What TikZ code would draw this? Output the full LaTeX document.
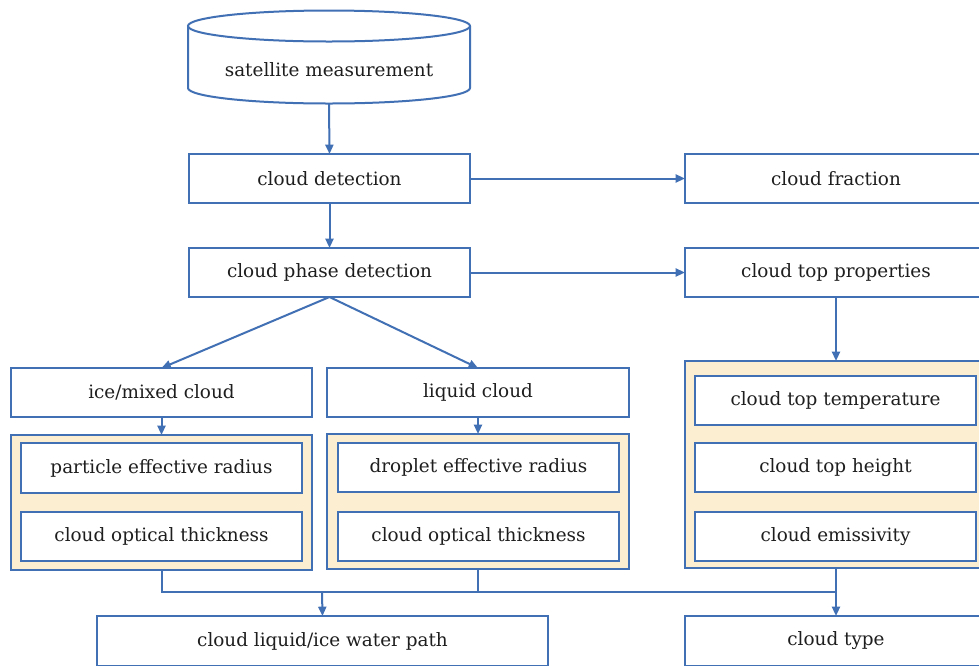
\documentclass[tikz,border=0pt]{standalone}
\usepackage{fontspec}
\setmainfont{DejaVu Serif}
\usetikzlibrary{arrows.meta}
\definecolor{lblue}{RGB}{66,112,180}
\definecolor{beige}{RGB}{252,238,208}
\definecolor{tx}{RGB}{30,30,30}
\newcommand{\bx}[7][box]{\node[#1,minimum width={(#5-#3)*0.75pt},minimum height={(#6-#4)*0.75pt}] (#2) at ({(#3+#5)/2},{(#4+#6)/2}) {#7};}
\tikzset{
  txt/.style={text=tx, font=\fontsize{13.8}{16}\selectfont},
  box/.style={draw=lblue, line width=1.5pt, fill=white, rectangle, inner sep=0pt, outer sep=0pt, txt},
  grp/.style={box, fill=beige},
  arr/.style={draw=lblue, line width=1.5pt, -{Triangle[length=7pt,width=6pt]}},
  conn/.style={draw=lblue, line width=1.5pt},
}
\begin{document}
\begin{tikzpicture}[x=0.75pt,y=-0.75pt]
\useasboundingbox (0,0) rectangle (979,665);
\fill[white] (0,0) rectangle (979,665);
\clip (0,0) rectangle (979,665);
% cylinder
\draw[conn, fill=white] (188,26) -- (188,88) arc[start angle=180, end angle=0, x radius=141, y radius=15.5] -- (470,26);
\draw[conn] (329,26) ellipse [x radius=141, y radius=15.5];
\node[inner sep=0pt, outer sep=0pt, minimum width={282*0.75pt}, minimum height={93*0.75pt}] (sat) at (329,57) {};
\node[txt] (satt) at (329,70) {satellite measurement};
% main column
\bx{det}{189}{154}{470}{203}{cloud detection}
\bx{phase}{189}{248}{470}{297}{cloud phase detection}
\bx{frac}{685}{154}{987}{203}{cloud fraction}
\bx{top}{685}{248}{987}{297}{cloud top properties}
\bx{ice}{11}{368}{312}{417}{ice/mixed cloud}
\bx{liq}{327}{368}{629}{417}{liquid cloud}
% groups
\bx[grp]{g1}{11}{435}{312}{570}{}
\bx[grp]{g2}{327}{434}{629}{569}{}
\bx[grp]{g3}{685}{361}{987}{568}{}
\bx{per}{21}{443}{302}{493}{particle effective radius}
\bx{cot1}{21}{512}{302}{561}{cloud optical thickness}
\bx{der}{338}{443}{619}{492}{droplet effective radius}
\bx{cot2}{338}{512}{619}{561}{cloud optical thickness}
\bx{ctt}{695}{376}{976}{425}{cloud top temperature}
\bx{cth}{695}{443}{976}{492}{cloud top height}
\bx{cem}{695}{512}{976}{561}{cloud emissivity}
% bottom
\bx{wp}{97}{616}{548}{666}{cloud liquid/ice water path}
\bx{type}{685}{616}{987}{666}{cloud type}
% arrows
\draw[arr] (sat.south) -- (det.north);
\draw[arr] (det.east) -- (frac.west);
\draw[arr] (det.south) -- (phase.north);
\draw[arr] (phase.east) -- (top.west);
\draw[arr] (phase.south) -- (ice.north);
\draw[arr] (phase.south) -- (liq.north);
\draw[arr] (ice.south) -- (g1.north);
\draw[arr] (liq.south) -- (g2.north);
\draw[arr] (top.south -| g3.north) -- (g3.north);
\coordinate (jr) at (836,592);
\coordinate (jl) at (322,592);
\draw[conn] (g1.south) |- (jr);
\draw[conn] (g2.south) -- (g2.south |- jr);
\draw[arr] (jl) -- (wp.north);
\draw[arr] (g3.south) -- (type.north);
\end{tikzpicture}
\end{document}
